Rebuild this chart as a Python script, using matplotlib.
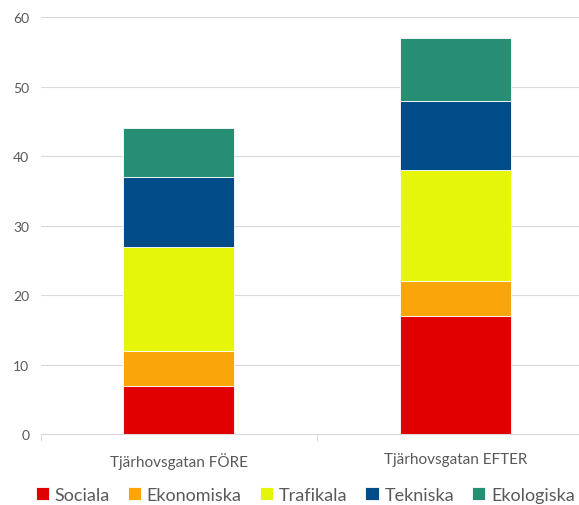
import matplotlib
matplotlib.use("Agg")
import matplotlib.pyplot as plt
import numpy as np

categories = ["Tjärhovsgatan FÖRE", "Tjärhovsgatan EFTER"]
series_names = ["Sociala", "Ekonomiska", "Trafikala", "Tekniska", "Ekologiska"]
sociala = [7, 17]
ekonomiska = [5, 5]
trafikala = [15, 16]
tekniska = [10, 10]
ekologiska = [7, 9]
colors = ["#E00000", "#FAA60A", "#E6F60A", "#004C88", "#268F73"]

plt.rcParams["font.family"] = ["Lato", "DejaVu Sans"]

fig = plt.figure(figsize=(5.79, 5.06), dpi=100)
ax = fig.add_axes([0.070, 0.140, 0.955, 0.824])

x = np.arange(len(categories))
bottom = np.zeros(len(categories))
for name, vals, c in zip(series_names, [sociala, ekonomiska, trafikala, tekniska, ekologiska], colors):
    ax.bar(x, vals, bottom=bottom, width=0.40, color=c, edgecolor="white",
           linewidth=0.6, label=name, zorder=3)
    bottom += np.array(vals)

ax.set_xlim(-0.5, 1.5)
ax.set_ylim(0, 60)
ax.set_yticks(range(0, 61, 10))
ax.grid(axis="y", color="#D9D9D9", linewidth=0.8, zorder=0)
for s in ["top", "right", "left"]:
    ax.spines[s].set_visible(False)
ax.spines["bottom"].set_color("#D9D9D9")
ax.tick_params(axis="y", length=0, labelsize=10, labelcolor="#595959", pad=8)
ax.set_xticks(x)
ax.set_xticklabels(categories)
ax.tick_params(axis="x", length=0, labelsize=11, labelcolor="#595959", pad=13)
ax.set_xticks([-0.5, 0.5, 1.5], minor=True)
ax.tick_params(axis="x", which="minor", length=5, color="#D9D9D9")

handles, labels = ax.get_legend_handles_labels()
fig.legend(handles, labels, loc="center", bbox_to_anchor=(0.527, 0.02), ncol=5,
           frameon=False, fontsize=13, handlelength=0.75, handleheight=0.75,
           handletextpad=0.3, columnspacing=1.0, labelcolor="#595959",
           borderaxespad=0, borderpad=0)

fig.savefig("out.png", dpi=100)
